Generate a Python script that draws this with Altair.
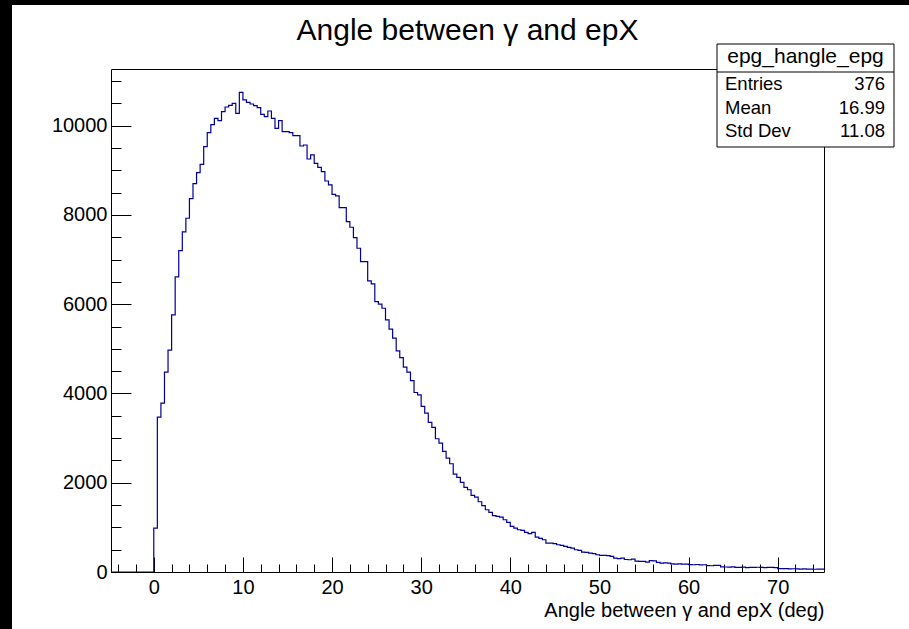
import altair as alt
import pandas as pd

# ---- histogram: 200 bins of 0.4 deg from -4.8 to 75.2 ----
x_min, x_max, bin_w = -4.8, 75.2, 0.4
empty_bins = [0] * 12
rise = [985, 3471, 3784, 4478, 4971, 5761, 6612, 7201, 7620, 7926, 8366, 8702, 8948,
        9135, 9530, 9844, 10022, 10165, 10112, 10314, 10419, 10457, 10501, 10278,
        10748, 10576, 10524]
decline = [10486, 10448, 10403, 10254, 10202, 10329, 10165, 9941, 10112, 9866, 9866,
           9844, 9776, 9776, 9545, 9567, 9254, 9344, 9157, 9067, 8970, 8761, 8672,
           8463, 8426, 8164, 8164, 7851, 7724, 7493, 7254, 6955, 6955, 6522, 6455,
           6059, 6000, 5910, 5649, 5440, 5238, 4955, 4805, 4589, 4477, 4290, 4022, 3970]
tail_a = [3709, 3560, 3351, 3239, 2985, 2888, 2701, 2552, 2425, 2194, 2119, 2007, 1895,
          1843, 1716, 1679, 1574, 1485, 1395, 1335, 1261, 1246, 1231, 1171, 1111, 1022,
          985, 947, 932, 888, 858, 888, 783, 753, 723, 649, 649, 634, 611, 596, 574,
          552, 537, 499, 484, 447, 440, 425, 410, 387, 373, 373, 365, 350, 313, 298]
tail_b = [313, 280, 275, 290, 245, 238, 238, 223, 255, 250, 216, 201, 205, 198, 180,
          178, 182, 175, 178, 165, 163, 168, 160, 163, 145, 140, 150, 148, 115, 112,
          110, 113, 105, 104, 108, 100, 104, 102, 106, 104, 100, 103, 104, 98, 76, 74,
          75, 70, 73, 72, 66, 68, 64, 66, 62, 66, 64]
counts = empty_bins + rise + decline + tail_a + tail_b

x_major = [0, 10, 20, 30, 40, 50, 60, 70]
x_minor = list(range(-4, 76, 2))
y_major = [0, 2000, 4000, 6000, 8000, 10000]
y_minor = list(range(0, 11001, 500))
y_top = 11270

title_text = "Angle between \u03b3 and epX"
x_title = "Angle between \u03b3 and epX (deg)"
hist_name = "epg_hangle_epg"
stat_names = ["Entries", "Mean", "Std Dev"]
stat_values = ["376", "16.99", "11.08"]

FONT = "Liberation Sans"
W, H = 713, 503

edges = [x_min + bin_w * i for i in range(len(counts) + 1)]
hist = pd.DataFrame({"edge": edges, "count": counts + [counts[-1]]})

xs = alt.Scale(domain=[x_min, x_max], nice=False, zero=False)
ys = alt.Scale(domain=[0, y_top], nice=False, zero=True)

base = alt.Chart(hist)

line = base.mark_line(interpolate="step-after", color="#000099", strokeWidth=1.2,
                      clip=True).encode(
    x=alt.X("edge:Q", scale=xs,
            axis=alt.Axis(orient="bottom", values=x_major, ticks=False, domain=False,
                          grid=False, format="d", labelFont=FONT, labelFontSize=20,
                          labelColor="black", labelPadding=5, labelFlush=False,
                          title=x_title, titleFont=FONT, titleFontSize=20,
                          titleFontWeight="normal", titleColor="black",
                          titleAnchor="end", titleAlign="right", titleX=W,
                          titleY=44, titleBaseline="alphabetic")),
    y=alt.Y("count:Q", scale=ys,
            axis=alt.Axis(orient="left", values=y_major, ticks=False, domain=False,
                          grid=False, format="d", labelFont=FONT, labelFontSize=20,
                          labelColor="black", labelPadding=4, labelFlush=False,
                          title=None)),
)

minor = base.mark_line(opacity=0).encode(
    x=alt.X("edge:Q", scale=xs,
            axis=alt.Axis(orient="bottom", values=x_minor, labels=False, domain=False,
                          grid=False, title=None, tickSize=8, offset=-8,
                          tickColor="black", tickWidth=1)),
    y=alt.Y("count:Q", scale=ys,
            axis=alt.Axis(orient="left", values=y_minor, labels=False, domain=False,
                          grid=False, title=None, tickSize=10, offset=-10,
                          tickColor="black", tickWidth=1)),
)

major = base.mark_line(opacity=0).encode(
    x=alt.X("edge:Q", scale=xs,
            axis=alt.Axis(orient="bottom", values=x_major, labels=False, domain=False,
                          grid=False, title=None, tickSize=15, offset=-15,
                          tickColor="black", tickWidth=1)),
    y=alt.Y("count:Q", scale=ys,
            axis=alt.Axis(orient="left", values=y_major, labels=False, domain=False,
                          grid=False, title=None, tickSize=20, offset=-20,
                          tickColor="black", tickWidth=1)),
)

one = alt.Chart(pd.DataFrame({"t": [title_text]}))

title_mark = one.mark_text(font=FONT, fontSize=30, align="center",
                           baseline="alphabetic", color="black").encode(
    x=alt.value(W / 2), y=alt.value(-29), text="t:N")

left_strip = one.mark_rect(color="black").encode(
    x=alt.value(-111), x2=alt.value(-99), y=alt.value(-69), y2=alt.value(H + 57))
top_strip = one.mark_rect(color="black").encode(
    x=alt.value(-111), x2=alt.value(W + 85), y=alt.value(-69), y2=alt.value(-64))

# statistics box
bx0, bx1, by0, by1, bsep = 606, 783, -25, 78, 3
box = one.mark_rect(fill="white", stroke="black", strokeWidth=1).encode(
    x=alt.value(bx0), x2=alt.value(bx1), y=alt.value(by0), y2=alt.value(by1))
sep = one.mark_rule(color="black", strokeWidth=1).encode(
    x=alt.value(bx0), x2=alt.value(bx1), y=alt.value(bsep))
head = alt.Chart(pd.DataFrame({"t": [hist_name]})).mark_text(
    font=FONT, fontSize=21, align="center", baseline="alphabetic", color="black"
).encode(x=alt.value((bx0 + bx1) / 2), y=alt.value(-6), text="t:N")

stat_layers = []
for i, (n, v) in enumerate(zip(stat_names, stat_values)):
    d = alt.Chart(pd.DataFrame({"n": [n], "v": [v]}))
    yy = 21 + i * 23.5
    stat_layers.append(d.mark_text(font=FONT, fontSize=18.5, align="left",
                                   baseline="alphabetic", color="black").encode(
        x=alt.value(bx0 + 8), y=alt.value(yy), text="n:N"))
    stat_layers.append(d.mark_text(font=FONT, fontSize=18.5, align="right",
                                   baseline="alphabetic", color="black").encode(
        x=alt.value(bx1 - 9), y=alt.value(yy), text="v:N"))

chart = alt.layer(
    line, minor, major, left_strip, top_strip, title_mark, box, sep, head,
    *stat_layers
).resolve_axis(x="independent", y="independent").properties(
    width=W, height=H,
    autosize=alt.AutoSizeParams(type="none"),
    padding={"left": 111, "top": 69, "right": 85, "bottom": 57},
    background="white",
).configure_view(stroke="black", strokeWidth=1)

chart.save("out.html", embed_options={"renderer": "svg", "actions": False})
